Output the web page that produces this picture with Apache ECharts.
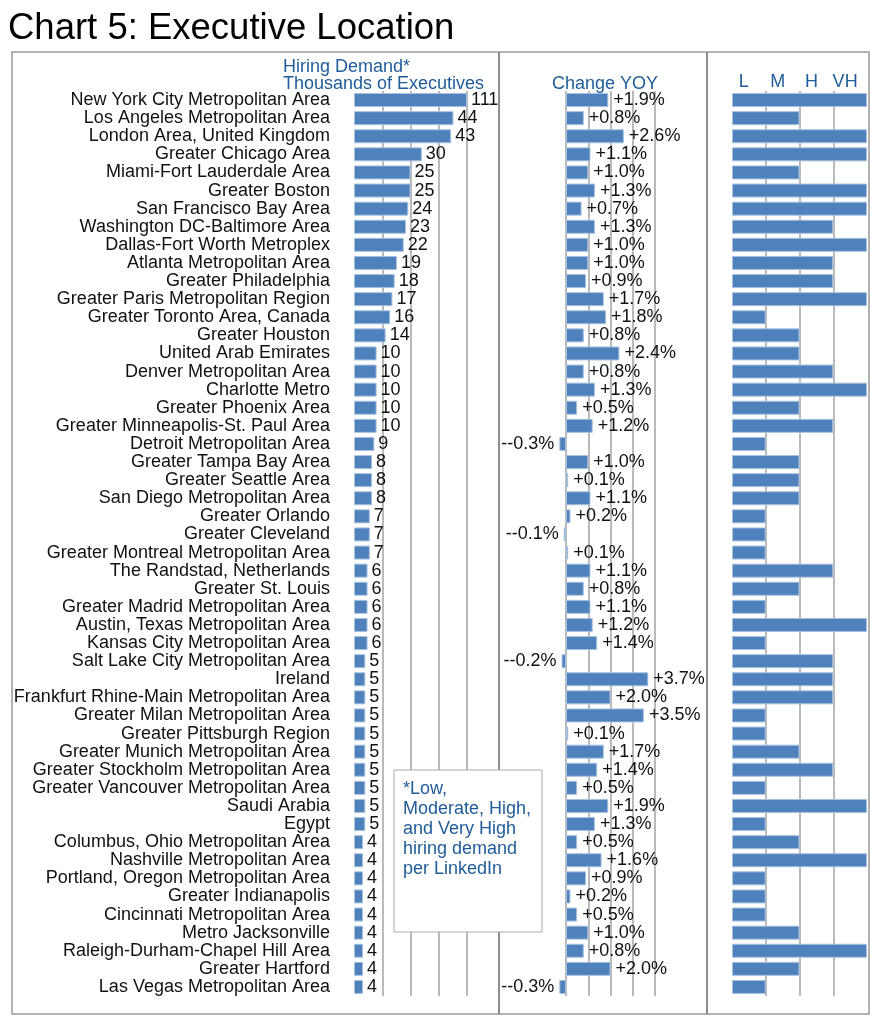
<!DOCTYPE html>
<html><head><meta charset="utf-8">
<script src="https://cdn.jsdelivr.net/npm/echarts@6/dist/echarts.min.js"></script>
<style>html,body{margin:0;padding:0;background:#fff}#c{width:882px;height:1024px}</style>
</head><body><div id="c"></div>
<script>
const locations = [
  'New York City Metropolitan Area','Los Angeles Metropolitan Area','London Area, United Kingdom','Greater Chicago Area',
  'Miami-Fort Lauderdale Area','Greater Boston','San Francisco Bay Area','Washington DC-Baltimore Area',
  'Dallas-Fort Worth Metroplex','Atlanta Metropolitan Area','Greater Philadelphia','Greater Paris Metropolitan Region',
  'Greater Toronto Area, Canada','Greater Houston','United Arab Emirates','Denver Metropolitan Area','Charlotte Metro',
  'Greater Phoenix Area','Greater Minneapolis-St. Paul Area','Detroit Metropolitan Area','Greater Tampa Bay Area',
  'Greater Seattle Area','San Diego Metropolitan Area','Greater Orlando','Greater Cleveland',
  'Greater Montreal Metropolitan Area','The Randstad, Netherlands','Greater St. Louis','Greater Madrid Metropolitan Area',
  'Austin, Texas Metropolitan Area','Kansas City Metropolitan Area','Salt Lake City Metropolitan Area','Ireland',
  'Frankfurt Rhine-Main Metropolitan Area','Greater Milan Metropolitan Area','Greater Pittsburgh Region',
  'Greater Munich Metropolitan Area','Greater Stockholm Metropolitan Area','Greater Vancouver Metropolitan Area',
  'Saudi Arabia','Egypt','Columbus, Ohio Metropolitan Area','Nashville Metropolitan Area',
  'Portland, Oregon Metropolitan Area','Greater Indianapolis','Cincinnati Metropolitan Area','Metro Jacksonville',
  'Raleigh-Durham-Chapel Hill Area','Greater Hartford','Las Vegas Metropolitan Area'
];
const demand = [111,44,43,30,25,25,24,23,22,19,18,17,16,14,10,10,10,10,10,9,8,8,8,7,7,7,6,6,6,6,6,5,5,5,5,5,5,5,5,5,5,4,4,4,4,4,4,4,4,4];
const yoy = [1.9,0.8,2.6,1.1,1.0,1.3,0.7,1.3,1.0,1.0,0.9,1.7,1.8,0.8,2.4,0.8,1.3,0.5,1.2,-0.3,1.0,0.1,1.1,0.2,-0.1,0.1,1.1,0.8,1.1,1.2,1.4,-0.2,3.7,2.0,3.5,0.1,1.7,1.4,0.5,1.9,1.3,0.5,1.6,0.9,0.2,0.5,1.0,0.8,2.0,-0.3];
const levels = ['VH','M','VH','VH','M','VH','VH','H','VH','H','H','VH','L','M','M','H','VH','M','H','L','M','M','M','L','L','L','H','M','L','VH','L','H','H','H','L','L','M','H','L','VH','L','M','VH','L','L','L','M','VH','M','L'];
const levelTicks = ['L','M','H','VH'];
const demandTicks = [0, 12.5, 25, 37.5, 50];
const yoyTicks = [0, 1, 2, 3, 4];

const FONT = '"Liberation Sans", Arial, Helvetica, sans-serif';
const BLUE = '#1f5c99';
const BAR = '#4f81bd';
const GRID_TOP = 91, GRID_H = 905;
const demandMax = demandTicks[demandTicks.length - 1];

const barStyle = {color: BAR, borderColor: '#a9c1e0', borderWidth: 1};
const gridLine = {color: '#a3a3a3', width: 1.5};

const chart = echarts.init(document.getElementById('c'));
chart.setOption({
  animation: false,
  grid: [
    {left: 354, top: GRID_TOP, width: 113, height: GRID_H},
    {left: 566, top: GRID_TOP, width: 89, height: GRID_H},
    {left: 732, top: GRID_TOP, width: 135, height: GRID_H}
  ],
  xAxis: [
    {type: 'value', gridIndex: 0, min: demandTicks[0], max: demandMax, interval: demandTicks[1] - demandTicks[0],
     axisLine: {show: false}, axisTick: {show: false}, axisLabel: {show: false},
     splitLine: {show: true, showMinLine: false, lineStyle: gridLine}},
    {type: 'value', gridIndex: 1, min: yoyTicks[0], max: yoyTicks[yoyTicks.length - 1], interval: 1,
     axisLine: {show: false}, axisTick: {show: false}, axisLabel: {show: false},
     splitLine: {show: true, lineStyle: gridLine}},
    {type: 'value', gridIndex: 2, min: 0, max: levelTicks.length, interval: 1,
     axisLine: {show: false}, axisTick: {show: false}, axisLabel: {show: false},
     splitLine: {show: true, showMinLine: false, showMaxLine: false, lineStyle: gridLine}},
    {type: 'category', gridIndex: 2, position: 'top', data: levelTicks,
     axisLine: {show: false}, axisTick: {show: false}, splitLine: {show: false},
     axisLabel: {color: BLUE, fontSize: 18, fontFamily: FONT, margin: 0, padding: [0, 10, 0, 0]}}
  ],
  yAxis: [
    {type: 'category', gridIndex: 0, inverse: true, data: locations,
     axisLine: {show: false}, axisTick: {show: false},
     axisLabel: {color: '#111', fontSize: 18, fontFamily: FONT, margin: 24, interval: 0}},
    {type: 'category', gridIndex: 1, inverse: true, data: locations, show: false},
    {type: 'category', gridIndex: 2, inverse: true, data: locations, show: false}
  ],
  series: [
    {type: 'bar', xAxisIndex: 0, yAxisIndex: 0, barWidth: 14, itemStyle: barStyle,
     data: demand.map(v => ({value: Math.min(v, demandMax), raw: v})),
     label: {show: true, position: 'right', distance: 4, color: '#111', fontSize: 18, fontFamily: FONT,
             formatter: p => String(p.data.raw)}},
    {type: 'bar', xAxisIndex: 1, yAxisIndex: 1, barWidth: 14, itemStyle: barStyle, clip: false,
     data: yoy.map(v => ({value: v, label: {position: v < 0 ? 'left' : 'right'}})),
     label: {show: true, distance: 5, color: '#111', fontSize: 18, fontFamily: FONT,
             formatter: p => (p.value < 0 ? '-' : '+') + p.value.toFixed(1) + '%'}},
    {type: 'bar', xAxisIndex: 2, yAxisIndex: 2, barWidth: 14, itemStyle: barStyle,
     data: levels.map(l => levelTicks.indexOf(l) + 1)}
  ],
  graphic: [
    {type: 'text', left: 8, top: 10, style: {text: 'Chart 5: Executive Location', font: '36.5px ' + FONT, fill: '#000'}},
    {type: 'rect', z: 50, shape: {x: 12, y: 52, width: 857, height: 962}, style: {fill: 'none', stroke: '#999', lineWidth: 1.5}},
    {type: 'line', z: 50, shape: {x1: 499, y1: 52, x2: 499, y2: 1014}, style: {stroke: '#8c8c8c', lineWidth: 2}},
    {type: 'line', z: 50, shape: {x1: 707, y1: 52, x2: 707, y2: 1014}, style: {stroke: '#8c8c8c', lineWidth: 2}},
    {type: 'text', z: 50, left: 283, top: 58, style: {text: 'Hiring Demand*', font: '18px ' + FONT, fill: BLUE}},
    {type: 'text', z: 50, left: 283, top: 75, style: {text: 'Thousands of Executives', font: '18px ' + FONT, fill: BLUE}},
    {type: 'text', z: 50, left: 552, top: 75, style: {text: 'Change YOY', font: '18px ' + FONT, fill: BLUE}},
    {type: 'rect', z: 100, shape: {x: 394, y: 770, width: 148, height: 162}, style: {fill: '#fff', stroke: '#aaa', lineWidth: 1}},
    {type: 'text', z: 101, left: 403, top: 779, style: {text: '*Low,\nModerate, High,\nand Very High\nhiring demand\nper LinkedIn', font: '18px ' + FONT, lineHeight: 20, fill: BLUE}}
  ]
});
</script>
</body></html>
